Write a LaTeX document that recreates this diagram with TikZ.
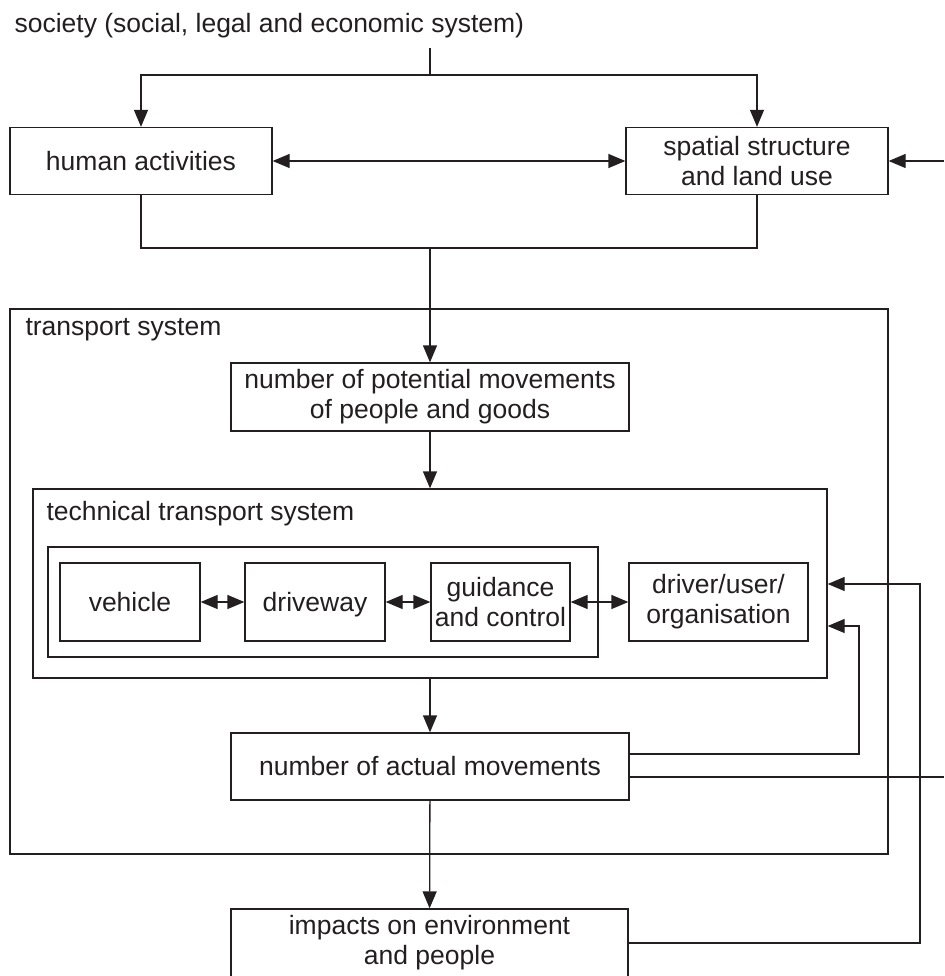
\documentclass[tikz,border=0pt]{standalone}
\usepackage{fontspec}
\setmainfont{Liberation Sans}
\usetikzlibrary{arrows.meta}
\definecolor{ink}{RGB}{35,31,32}
\begin{document}
\begin{tikzpicture}[x=1pt,y=-1pt,
  every node/.style={font=\fontsize{26.5}{30}\selectfont, text=ink},
  box/.style={draw=ink, line width=1.3pt, inner sep=0pt, align=center},
  conn/.style={draw=ink, line width=1.3pt},
  tip/.tip={Triangle[length=17pt,width=14pt]},
  arr/.style={conn, -tip},
  darr/.style={conn, tip-tip},
]
\useasboundingbox (0,0) rectangle (944,976);

% society and its two components
\node[anchor=base west] (soc) at (11,33) {society (social, legal and economic system)};
\node[box, minimum width=262pt, minimum height=67pt] (human) at (141,161) {human activities};
\node[box, minimum width=262pt, minimum height=67pt] (spatial) at (757,161) {spatial structure\\and land use};

% transport system frames
\node[box, minimum width=878pt, minimum height=545pt] (ts) at (449,581.5) {};
\node[anchor=base west] (tslabel) at (22,335) {transport system};
\node[box, minimum width=398pt, minimum height=68pt] (potential) at (430,397) {number of potential movements\\of people and goods};
\node[box, minimum width=794pt, minimum height=189pt] (tech) at (430,583.5) {};
\node[anchor=base west] (techlabel) at (43,520) {technical transport system};
\node[box, minimum width=550pt, minimum height=110pt] (inner) at (323,602) {};
\node[box, minimum width=140pt, minimum height=78pt] (vehicle) at (130,602) {vehicle};
\node[box, minimum width=140pt, minimum height=78pt, text depth=0pt] (driveway) at (315,602) {driveway};
\node[box, minimum width=139pt, minimum height=78pt] (guidance) at (500.5,602) {guidance\\and control};
\node[box, minimum width=179pt, minimum height=78pt] (driver) at (718.5,602) {driver/user/\\organisation};
\node[box, minimum width=398pt, minimum height=67pt] (actual) at (430,766.5) {number of actual movements};
\node[box, minimum width=397pt, minimum height=68pt] (impacts) at (429.5,943) {impacts on environment\\and people};

% branching points and free ends
\coordinate (soctap) at (430,48);
\coordinate (split) at (430,75);
\coordinate (merge) at (430,248);
\coordinate (inR) at (944,161);
\coordinate (outR) at (944,777);
\coordinate (bendA) at (859,626);
\coordinate (bendB) at (920,584);

% connectors
\draw[conn] (soctap) -- (split);
\draw[arr] (split) -| (human);
\draw[arr] (split) -| (spatial);
\draw[darr] (human) -- (spatial);
\draw[arr] (inR) -- (spatial);
\draw[conn] (human.south) |- (merge) -| (spatial.south);
\draw[arr] (merge) -- (potential);
\draw[arr] (potential) -- (tech);
\draw[darr] (vehicle) -- (driveway);
\draw[darr] (driveway) -- (guidance);
\draw[darr] (guidance) -- (driver);
\draw[arr] (tech) -- (actual);
\draw[arr] (actual) -- (impacts);
\draw[arr] ([yshift=12.5pt]actual.east) -| (bendA) -- ([yshift=-42.5pt]tech.east);
\draw[conn] ([yshift=-10.5pt]actual.east) -- (outR);
\draw[arr] (impacts.east) -| (bendB) -- ([yshift=-0.5pt]tech.east);
\end{tikzpicture}
\end{document}
